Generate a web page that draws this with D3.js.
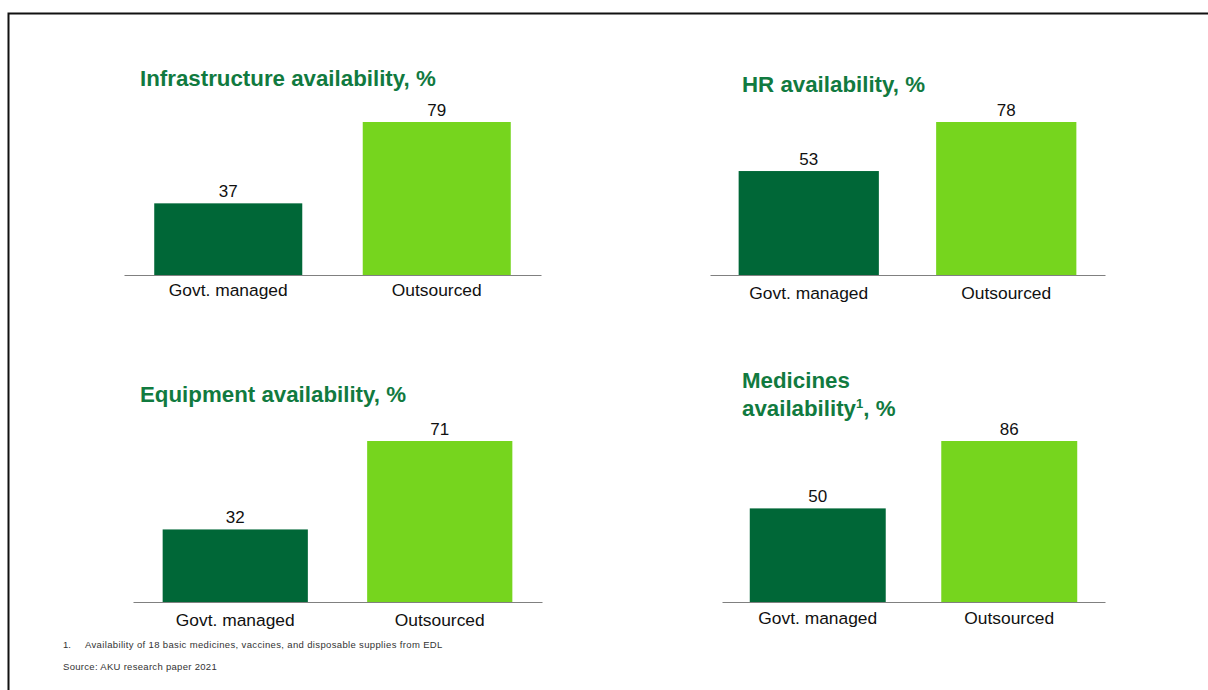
<!DOCTYPE html>
<html><head><meta charset="utf-8">
<script src="https://cdn.jsdelivr.net/npm/d3@7"></script>
<style>
html,body{margin:0;padding:0;background:#fff;}
svg{display:block;font-family:"Liberation Sans",Arial,sans-serif;}
</style></head>
<body>
<svg id="chart" width="1208" height="690"></svg>
<script>
const categories = ["Govt. managed", "Outsourced"];
const infrastructureValues = [37, 79];
const hrValues = [53, 78];
const equipmentValues = [32, 71];
const medicinesValues = [50, 86];
const footnoteNumber = "1.";
const footnote = "Availability of 18 basic medicines, vaccines, and disposable supplies from EDL";
const source = "Source: AKU research paper 2021";

const panels = [
  {title: ["Infrastructure availability, %"], values: infrastructureValues,
   x0: 124, x1: 541, base: 275, top: 122, tx: 140, ty: 86, labOff: 23},
  {title: ["HR availability, %"], values: hrValues,
   x0: 710, x1: 1105, base: 275, top: 122, tx: 742, ty: 92, labOff: 26},
  {title: ["Equipment availability, %"], values: equipmentValues,
   x0: 133, x1: 542, base: 602, top: 441, tx: 140, ty: 402, labOff: 26},
  {title: ["Medicines", "availability", "1", ", %"], values: medicinesValues,
   x0: 722, x1: 1105, base: 602, top: 441, tx: 742, ty: 388, labOff: 24, multi: true}
];
const colors = ["#006737", "#76d51e"];
const titleColor = "#117a3f";
const titleSize = 22.3;

const svg = d3.select("#chart");

// frame
svg.append("path").attr("d", "M8.5,690 V13.5 H1208")
  .attr("fill", "none").attr("stroke", "#111").attr("stroke-width", 2);

panels.forEach(p => {
  const g = svg.append("g");
  const x = d3.scaleBand().domain(categories).range([p.x0, p.x1])
    .paddingInner(0.29).paddingOuter(0.145);
  const y = d3.scaleLinear().domain([0, d3.max(p.values)]).range([p.base, p.top]);

  // title
  g.append("text").attr("x", p.tx).attr("y", p.ty)
    .attr("font-size", titleSize).attr("font-weight", "bold").attr("fill", titleColor)
    .text(p.title[0]);
  if (p.multi) {
    const t2 = g.append("text").attr("x", p.tx).attr("y", p.ty + 28)
      .attr("font-size", titleSize).attr("font-weight", "bold").attr("fill", titleColor);
    t2.append("tspan").text(p.title[1]);
    t2.append("tspan").attr("font-size", 13).attr("dy", -8).text(p.title[2]);
    t2.append("tspan").attr("dy", 8).text(p.title[3]);
  }

  g.selectAll("rect").data(p.values).join("rect")
    .attr("x", (d, i) => x(categories[i]))
    .attr("width", x.bandwidth())
    .attr("y", d => y(d))
    .attr("height", d => p.base - y(d))
    .attr("fill", (d, i) => colors[i]);

  g.selectAll("text.val").data(p.values).join("text").attr("class", "val")
    .attr("x", (d, i) => x(categories[i]) + x.bandwidth() / 2)
    .attr("y", d => y(d) - 6)
    .attr("text-anchor", "middle").attr("font-size", 17).attr("fill", "#111")
    .text(d => d);

  const axis = d3.axisBottom(x).tickSize(0).tickSizeOuter(0).tickPadding(p.labOff - 14);
  const ag = g.append("g").attr("transform", `translate(0,${p.base})`).call(axis);
  ag.select(".domain").attr("stroke", "#808080").attr("stroke-width", 1.2);
  ag.selectAll("text").attr("font-size", 17.4).attr("fill", "#111")
    .attr("font-family", "Liberation Sans, Arial, sans-serif");
});

svg.append("text").attr("x", 63).attr("y", 648).attr("font-size", 9.5).attr("fill", "#333")
  .text(footnoteNumber);
svg.append("text").attr("x", 85).attr("y", 648).attr("font-size", 9.5).attr("fill", "#333")
  .attr("letter-spacing", 0.35).text(footnote);
svg.append("text").attr("x", 63).attr("y", 670).attr("font-size", 9.5).attr("fill", "#333")
  .attr("letter-spacing", 0.3).text(source);
</script>
</body></html>
